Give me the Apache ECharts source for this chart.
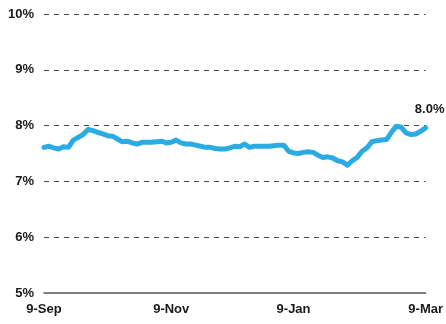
<!DOCTYPE html>
<html>
<head>
<meta charset="utf-8">
<script src="https://cdn.jsdelivr.net/npm/echarts@6/dist/echarts.min.js"></script>
<style>
  html, body { margin: 0; padding: 0; background: #fff; }
  #chart { width: 446px; height: 324px; }
</style>
</head>
<body>
<div id="chart"></div>
<script>
// Rate observations, evenly spaced from 9-Sep to 9-Mar (percent)
const rates = [
  7.61, 7.63, 7.60, 7.58, 7.62, 7.61, 7.74, 7.79, 7.84, 7.93,
  7.91, 7.88, 7.85, 7.82, 7.81, 7.76, 7.71, 7.72, 7.69, 7.67,
  7.70, 7.70, 7.70, 7.71, 7.72, 7.69, 7.70, 7.74, 7.69, 7.67,
  7.67, 7.65, 7.63, 7.61, 7.61, 7.59, 7.58, 7.58, 7.60, 7.63,
  7.62, 7.67, 7.61, 7.63, 7.63, 7.63, 7.63, 7.64, 7.65, 7.65,
  7.54, 7.51, 7.50, 7.52, 7.53, 7.52, 7.47, 7.43, 7.44, 7.42,
  7.37, 7.35, 7.29, 7.37, 7.43, 7.54, 7.60, 7.71, 7.73, 7.74,
  7.75, 7.88, 7.99, 7.97, 7.87, 7.84, 7.85, 7.90, 7.96
];

// Date tick labels and the observation index each one sits on
const tickLabels = ['9-Sep', '9-Nov', '9-Jan', '9-Mar'];
const tickIndex = [0, 26, 51, 78];

// Y axis range (percent)
const yMin = 5, yMax = 10, yStep = 1;

const categories = rates.map((_, i) => String(i));
const lastIdx = rates.length - 1;

const chart = echarts.init(document.getElementById('chart'), null, { renderer: 'canvas' });

const textStyle = {
  fontFamily: 'Liberation Sans, Arial, sans-serif',
  fontSize: 13,
  fontWeight: 'bold',
  color: '#1a1a1a'
};

chart.setOption({
  animation: false,
  grid: { left: 44, right: 19, top: 14, bottom: 31, containLabel: false },
  xAxis: {
    type: 'category',
    data: categories,
    boundaryGap: false,
    axisLine: { show: true, lineStyle: { color: '#555', width: 1.5 } },
    axisTick: { show: false },
    splitLine: { show: false },
    axisLabel: Object.assign({}, textStyle, {
      margin: 10,
      interval: (idx) => tickIndex.indexOf(idx) >= 0,
      formatter: (val, idx) => {
        const k = tickIndex.indexOf(idx);
        return k >= 0 ? tickLabels[k] : '';
      }
    })
  },
  yAxis: {
    type: 'value',
    min: yMin,
    max: yMax,
    interval: yStep,
    axisLine: { show: false },
    axisTick: { show: false },
    axisLabel: Object.assign({}, textStyle, {
      margin: 10,
      formatter: (v) => v + '%'
    }),
    splitLine: {
      show: true,
      showMinLine: false,
      lineStyle: { color: '#444', width: 1, type: [5, 5] }
    }
  },
  series: [{
    type: 'line',
    data: rates,
    showSymbol: false,
    symbol: 'none',
    smooth: false,
    lineStyle: { color: '#2AACE2', width: 5, cap: 'round', join: 'round' },
    markPoint: {
      symbol: 'circle',
      symbolSize: 0,
      data: [{ coord: [String(lastIdx), rates[lastIdx]], value: rates[lastIdx] }],
      label: Object.assign({}, textStyle, {
        show: true,
        position: 'top',
        distance: 12,
        offset: [4, 0],
        formatter: (p) => p.value.toFixed(1) + '%'
      })
    }
  }]
});
</script>
</body>
</html>
